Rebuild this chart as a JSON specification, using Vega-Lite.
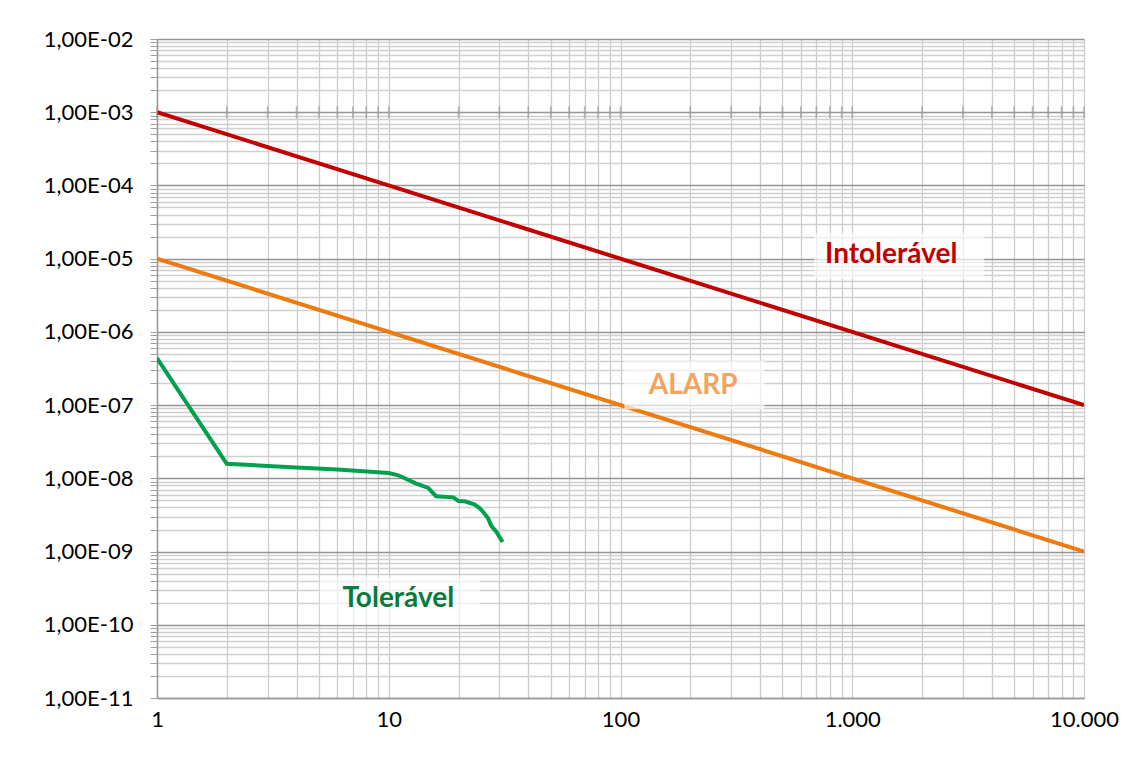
{
  "$schema": "https://vega.github.io/schema/vega-lite/v6.json",
  "width": 927,
  "height": 659,
  "autosize": {"type": "none"},
  "padding": {"left": 157, "top": 39, "right": 54, "bottom": 60},
  "background": "white",
  "config": {
    "view": {"stroke": null},
    "font": "Lato",
    "axis": {"labelFont": "Lato", "labelFontSize": 22, "labelColor": "#000"}
  },
  "datasets": {
    "lines": [
      {"series": "Intolerável", "x": 1, "y": 1e-3},
      {"series": "Intolerável", "x": 10000, "y": 1e-7},
      {"series": "ALARP", "x": 1, "y": 1e-5},
      {"series": "ALARP", "x": 10000, "y": 1e-9},
      {"series": "Tolerável", "x": 1, "y": 4.4e-7},
      {"series": "Tolerável", "x": 2, "y": 1.58e-8},
      {"series": "Tolerável", "x": 4, "y": 1.41e-8},
      {"series": "Tolerável", "x": 6, "y": 1.32e-8},
      {"series": "Tolerável", "x": 10, "y": 1.18e-8},
      {"series": "Tolerável", "x": 11, "y": 1.1e-8},
      {"series": "Tolerável", "x": 13, "y": 8.6e-9},
      {"series": "Tolerável", "x": 14.8, "y": 7.4e-9},
      {"series": "Tolerável", "x": 16, "y": 5.7e-9},
      {"series": "Tolerável", "x": 19, "y": 5.5e-9},
      {"series": "Tolerável", "x": 20, "y": 4.9e-9},
      {"series": "Tolerável", "x": 21.3, "y": 4.85e-9},
      {"series": "Tolerável", "x": 23.5, "y": 4.37e-9},
      {"series": "Tolerável", "x": 24.7, "y": 3.9e-9},
      {"series": "Tolerável", "x": 25.5, "y": 3.5e-9},
      {"series": "Tolerável", "x": 26.8, "y": 2.86e-9},
      {"series": "Tolerável", "x": 27.7, "y": 2.24e-9},
      {"series": "Tolerável", "x": 29.1, "y": 1.87e-9},
      {"series": "Tolerável", "x": 31, "y": 1.35e-9}
    ],
    "labels": [
      {"label": "Intolerável", "x": 1473, "y": 1.12e-5, "x1": 686, "x2": 3707, "y1": 2.24e-5, "y2": 5.26e-6},
      {"label": "ALARP", "x": 206, "y": 1.82e-7, "x1": 104, "x2": 418, "y1": 4e-7, "y2": 8.8e-8},
      {"label": "Tolerável", "x": 11, "y": 2.24e-10, "x1": 5.04, "x2": 24.7, "y1": 4.5e-10, "y2": 1.0e-10}
    ],
    "xticks": [
      {"x": 1}, {"x": 2}, {"x": 3}, {"x": 4}, {"x": 5}, {"x": 6}, {"x": 7}, {"x": 8}, {"x": 9},
      {"x": 10}, {"x": 20}, {"x": 30}, {"x": 40}, {"x": 50}, {"x": 60}, {"x": 70}, {"x": 80}, {"x": 90},
      {"x": 100}, {"x": 200}, {"x": 300}, {"x": 400}, {"x": 500}, {"x": 600}, {"x": 700}, {"x": 800}, {"x": 900},
      {"x": 1000}, {"x": 2000}, {"x": 3000}, {"x": 4000}, {"x": 5000}, {"x": 6000}, {"x": 7000}, {"x": 8000}, {"x": 9000},
      {"x": 10000}
    ]
  },
  "layer": [
    {
      "data": {"name": "lines"},
      "mark": {"type": "line", "strokeWidth": 4, "clip": true},
      "encoding": {
        "x": {
          "field": "x", "type": "quantitative",
          "scale": {"type": "log", "domain": [1, 10000], "nice": false},
          "axis": {
            "title": null,
            "values": [1,2,3,4,5,6,7,8,9,10,20,30,40,50,60,70,80,90,100,200,300,400,500,600,700,800,900,1000,2000,3000,4000,5000,6000,7000,8000,9000,10000],
            "labelExpr": "abs(log(datum.value)/LN10 - round(log(datum.value)/LN10)) < 0.001 ? replace(format(datum.value, ',d'), ',', '.') : ''",
            "ticks": false,
            "labelPadding": 11,
            "labelOverlap": false,
            "labelFlush": false,
            "grid": true,
            "gridColor": "#cccccc",
            "gridWidth": 1.3,
            "domainColor": "#9a9a9a",
            "domainWidth": 1.5
          }
        },
        "y": {
          "field": "y", "type": "quantitative",
          "scale": {"type": "log", "domain": [1e-11, 1e-2], "nice": false},
          "axis": {
            "title": null,
            "values": [1e-11,2e-11,3e-11,4e-11,5e-11,6e-11,7e-11,8e-11,9e-11,1e-10,2e-10,3e-10,4e-10,5e-10,6e-10,7e-10,8e-10,9e-10,1e-9,2e-9,3e-9,4e-9,5e-9,6e-9,7e-9,8e-9,9e-9,1e-8,2e-8,3e-8,4e-8,5e-8,6e-8,7e-8,8e-8,9e-8,1e-7,2e-7,3e-7,4e-7,5e-7,6e-7,7e-7,8e-7,9e-7,1e-6,2e-6,3e-6,4e-6,5e-6,6e-6,7e-6,8e-6,9e-6,1e-5,2e-5,3e-5,4e-5,5e-5,6e-5,7e-5,8e-5,9e-5,1e-4,2e-4,3e-4,4e-4,5e-4,6e-4,7e-4,8e-4,9e-4,1e-3,2e-3,3e-3,4e-3,5e-3,6e-3,7e-3,8e-3,9e-3,1e-2],
            "labelExpr": "abs(log(datum.value)/LN10 - round(log(datum.value)/LN10)) < 0.001 ? (-round(log(datum.value)/LN10) < 10 ? '1,00E-0' + (-round(log(datum.value)/LN10)) : '1,00E-' + (-round(log(datum.value)/LN10))) : ''",
            "labelOverlap": false,
            "labelFlush": false,
            "labelPadding": 17,
            "ticks": true,
            "tickSize": 7,
            "tickColor": "#a0a0a0",
            "grid": true,
            "gridColor": {
              "condition": {"test": "abs(log(datum.value)/LN10 - round(log(datum.value)/LN10)) < 0.001", "value": "#959595"},
              "value": "#cfcfcf"
            },
            "gridWidth": 1.3,
            "domainColor": "#9a9a9a",
            "domainWidth": 1.5
          }
        },
        "color": {
          "field": "series", "type": "nominal",
          "scale": {"domain": ["Intolerável", "ALARP", "Tolerável"], "range": ["#c00000", "#ee7b10", "#00a04f"]},
          "legend": null
        },
        "detail": {"field": "series"}
      }
    },
    {
      "data": {"name": "xticks"},
      "mark": {"type": "tick", "orient": "vertical", "size": 12, "thickness": 1.6, "color": "#999999"},
      "encoding": {
        "x": {"field": "x", "type": "quantitative"},
        "y": {"datum": 1e-3, "type": "quantitative"}
      }
    },
    {
      "data": {"name": "labels"},
      "mark": {"type": "rect", "color": "white", "opacity": 0.65},
      "encoding": {
        "x": {"field": "x1", "type": "quantitative"},
        "x2": {"field": "x2"},
        "y": {"field": "y1", "type": "quantitative"},
        "y2": {"field": "y2"}
      }
    },
    {
      "data": {"name": "labels"},
      "mark": {"type": "text", "font": "Lato", "fontWeight": "bold", "fontSize": 28, "align": "center", "baseline": "middle"},
      "encoding": {
        "x": {"field": "x", "type": "quantitative"},
        "y": {"field": "y", "type": "quantitative"},
        "text": {"field": "label"},
        "color": {
          "field": "label", "type": "nominal",
          "scale": {"domain": ["Intolerável", "ALARP", "Tolerável"], "range": ["#c00000", "#f4a460", "#0a7a3a"]},
          "legend": null
        }
      }
    }
  ],
  "resolve": {"scale": {"color": "independent"}}
}
